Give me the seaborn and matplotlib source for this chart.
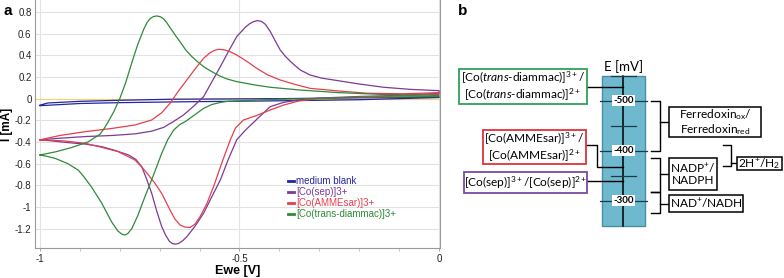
import matplotlib
matplotlib.use('Agg')
import matplotlib.pyplot as plt
import seaborn as sns
import pandas as pd
from matplotlib.patches import Rectangle
from matplotlib.ticker import MultipleLocator, FuncFormatter

# ---------------- panel a: cyclic voltammograms (forward sweep, then return sweep)
blank_fwd_x = [-1.0, -0.98, -0.9, -0.8, -0.66, -0.5, -0.4, -0.2, 0.0]
blank_fwd_y = [-0.06, -0.04, -0.025, -0.015, -0.005, -0.002, 0.0, 0.008, 0.015]
blank_rev_x = [0.0, -0.2, -0.4, -0.66, -0.8, -0.9, -1.0]
blank_rev_y = [0.01, -0.01, -0.02, -0.03, -0.037, -0.045, -0.065]

sep_fwd_x = [-1.0, -0.95, -0.887, -0.82, -0.762, -0.72, -0.69, -0.665, -0.64, -0.615, -0.59,
             -0.57, -0.548, -0.527, -0.507, -0.485, -0.475, -0.465, -0.455, -0.445, -0.435,
             -0.423, -0.41, -0.398, -0.385, -0.37, -0.348, -0.323, -0.295, -0.264, -0.2,
             -0.139, -0.07, 0.0]
sep_fwd_y = [-0.38, -0.365, -0.35, -0.34, -0.325, -0.30, -0.265, -0.21, -0.15, -0.07, 0.018,
             0.15, 0.295, 0.44, 0.572, 0.66, 0.69, 0.71, 0.72, 0.713, 0.685,
             0.62, 0.53, 0.449, 0.39, 0.335, 0.265, 0.218, 0.19, 0.172, 0.135,
             0.105, 0.085, 0.074]
sep_rev_x = [0.0, -0.1, -0.2, -0.3, -0.35, -0.39, -0.423, -0.445, -0.465, -0.485, -0.507,
             -0.528, -0.548, -0.57, -0.59, -0.612, -0.632, -0.642, -0.652, -0.66, -0.668,
             -0.676, -0.685, -0.695, -0.708, -0.72, -0.732, -0.745, -0.76, -0.778, -0.81,
             -0.845, -0.885, -0.929, -0.97, -1.0]
sep_rev_y = [0.05, 0.03, 0.02, 0.005, -0.01, -0.035, -0.074, -0.15, -0.22, -0.29, -0.38,
             -0.56, -0.75, -0.91, -1.058, -1.18, -1.274, -1.31, -1.335, -1.342, -1.338,
             -1.315, -1.26, -1.18, -1.03, -0.874, -0.75, -0.628, -0.56, -0.52, -0.48,
             -0.443, -0.42, -0.406, -0.39, -0.38]

amme_fwd_x = [-1.0, -0.95, -0.887, -0.82, -0.762, -0.72, -0.695, -0.674, -0.655, -0.632,
              -0.61, -0.59, -0.575, -0.563, -0.553, -0.54, -0.525, -0.507, -0.48, -0.457,
              -0.43, -0.398, -0.36, -0.323, -0.25, -0.18, -0.09, 0.0]
amme_fwd_y = [-0.38, -0.34, -0.305, -0.275, -0.243, -0.197, -0.13, -0.043, 0.06, 0.172,
              0.28, 0.372, 0.42, 0.445, 0.455, 0.452, 0.435, 0.403, 0.34, 0.28,
              0.22, 0.172, 0.13, 0.095, 0.07, 0.05, 0.045, 0.055]
amme_rev_x = [0.0, -0.1, -0.2, -0.3, -0.35, -0.39, -0.423, -0.46, -0.49, -0.51, -0.523,
              -0.545, -0.565, -0.582, -0.599, -0.612, -0.624, -0.637, -0.649, -0.662, -0.674,
              -0.695, -0.712, -0.728, -0.745, -0.762, -0.804, -0.85, -0.887, -0.94, -1.0]
amme_rev_y = [0.04, 0.025, 0.015, 0.0, -0.02, -0.06, -0.105, -0.16, -0.197, -0.27, -0.38,
              -0.6, -0.812, -0.97, -1.09, -1.16, -1.188, -1.185, -1.166, -1.11, -1.028,
              -0.874, -0.78, -0.705, -0.63, -0.566, -0.489, -0.445, -0.412, -0.39, -0.38]

diam_fwd_x = [-1.0, -0.96, -0.92, -0.88, -0.85, -0.84, -0.83, -0.815, -0.80, -0.785, -0.77,
              -0.755, -0.74, -0.732, -0.725, -0.716, -0.707, -0.698, -0.69, -0.682, -0.674,
              -0.66, -0.65, -0.635, -0.62, -0.605, -0.59, -0.57, -0.55, -0.53, -0.507,
              -0.46, -0.423, -0.35, -0.25, -0.15, 0.0]
diam_fwd_y = [-0.52, -0.49, -0.45, -0.40, -0.33, -0.28, -0.22, -0.12, 0.0, 0.15, 0.33,
              0.50, 0.64, 0.70, 0.735, 0.757, 0.763, 0.755, 0.735, 0.70, 0.655,
              0.58, 0.53, 0.45, 0.39, 0.34, 0.295, 0.25, 0.21, 0.18, 0.157,
              0.125, 0.105, 0.08, 0.055, 0.04, 0.03]
diam_rev_x = [0.0, -0.2, -0.4, -0.5, -0.53, -0.548, -0.57, -0.59, -0.605, -0.62, -0.635,
              -0.65, -0.665, -0.68, -0.695, -0.715, -0.737, -0.755, -0.77, -0.78, -0.787,
              -0.795, -0.805, -0.82, -0.845, -0.87, -0.89, -0.904, -0.93, -0.962, -0.985, -1.0]
diam_rev_y = [0.02, 0.01, -0.005, -0.02, -0.025, -0.035, -0.055, -0.09, -0.13, -0.17, -0.21,
              -0.24, -0.29, -0.38, -0.505, -0.70, -0.905, -1.08, -1.20, -1.245, -1.258,
              -1.25, -1.22, -1.14, -0.966, -0.82, -0.72, -0.66, -0.60, -0.551, -0.53, -0.52]

names = ['medium blank', '[Co(sep)]3+', '[Co(AMMEsar)]3+', '[Co(trans-diammac)]3+']
colors = ['#26269e', '#7b3a96', '#e3404e', '#2f8a3a']

frames = []
for name, xs, ys in [
        (names[0], blank_fwd_x + blank_rev_x, blank_fwd_y + blank_rev_y),
        (names[1], sep_fwd_x + sep_rev_x, sep_fwd_y + sep_rev_y),
        (names[2], amme_fwd_x + amme_rev_x, amme_fwd_y + amme_rev_y),
        (names[3], diam_fwd_x + diam_rev_x, diam_fwd_y + diam_rev_y)]:
    frames.append(pd.DataFrame({'Ewe': xs, 'I': ys, 'sample': name}))
cv = pd.concat(frames, ignore_index=True)

# ---------------- panel b: redox potentials [mV]
cobalt_text = ['[Co($\\mathit{trans}$-diammac)]$^{3+}$/\n[Co($\\mathit{trans}$-diammac)]$^{2+}$',
               '[Co(AMMEsar)]$^{3+}$/\n[Co(AMMEsar)]$^{2+}$',
               '[Co(sep)]$^{3+}$/[Co(sep)]$^{2+}$']
cobalt_E = [-528, -368, -339]
cobalt_colors = ['#2ea05a', '#e0303a', '#7b4a9e']
bio_text = ['Ferredoxin$_{\\mathrm{ox}}$/\nFerredoxin$_{\\mathrm{red}}$',
            'NADP$^{+}$/\nNADPH', 'NAD$^{+}$/NADH']
bio_lo = [-500, -385, -317]
bio_hi = [-400, -317, -275]
h2_lo, h2_hi = -411, -369
axis_ticks = [-550, -500, -450, -400, -350, -300]
axis_labels = ['-500', '-400', '-300']

plt.rcParams['font.family'] = ['Liberation Sans', 'DejaVu Sans']
plt.rcParams['mathtext.fontset'] = 'custom'
plt.rcParams['mathtext.rm'] = 'Lato'
plt.rcParams['mathtext.it'] = 'Lato:italic'
plt.rcParams['mathtext.bf'] = 'Lato:bold'

fig = plt.figure(figsize=(7.84, 2.78), dpi=100)
ax = fig.add_axes([35 / 784, 1 - 248 / 278, 405 / 784, 248 / 278])

ax.axhline(0, color='#f2d46a', lw=0.8, zorder=1)
sns.lineplot(data=cv, x='Ewe', y='I', hue='sample', palette=dict(zip(names, colors)),
             sort=False, estimator=None, lw=0.9, ax=ax, zorder=3)
ax.set_xlim(-1.0125, 0.0025)
ax.set_ylim(-1.378, 0.91)
ax.yaxis.set_major_locator(MultipleLocator(0.2))
ax.xaxis.set_major_locator(MultipleLocator(0.5))
ax.xaxis.set_minor_locator(MultipleLocator(0.1))
fmt = FuncFormatter(lambda v, p: ('%g' % round(v, 2)))
ax.xaxis.set_major_formatter(fmt)
ax.yaxis.set_major_formatter(fmt)
ax.grid(True, axis='y', color='#e2e2e2', lw=0.8)
ax.grid(True, axis='x', which='major', color='#e2e2e2', lw=0.8)
ax.set_axisbelow(True)
for s in ['left', 'bottom', 'right']:
    ax.spines[s].set_color('#9a9a9a')
ax.spines['top'].set_visible(False)
ax.tick_params(axis='both', labelsize=7, colors='#9a9a9a', labelcolor='#222222', length=2.5, width=0.6, pad=2)
ax.tick_params(axis='y', length=0, pad=2.5)
ax.tick_params(axis='x', which='minor', length=2, colors='#bbbbbb')
ax.set_xlabel('Ewe [V]', fontweight='bold', fontsize=9)
ax.set_ylabel('I [mA]', fontweight='bold', fontsize=8.5)
ax.xaxis.set_label_coords(0.5, -(271 - 248) / 248, transform=ax.transAxes)
ax.xaxis.label.set_va('center')
ax.yaxis.set_label_coords(-(35 - 7) / 405, 0.5)
ax.yaxis.label.set_va('center')

leg = ax.legend(loc='upper left', bbox_to_anchor=(0.613, 0.31), frameon=False, fontsize=7,
                handlelength=0.6, handletextpad=0.25, labelspacing=0.12, borderpad=0,
                labelcolor='linecolor')
for h in leg.get_lines():
    h.set_linewidth(2)

fig.text(4 / 784, 1 - 11 / 278, 'a', fontsize=11, fontweight='bold', va='center')
fig.text(458 / 784, 1 - 11 / 278, 'b', fontsize=11, fontweight='bold', va='center')

# ---------------- panel b drawing (x in figure pixels, y in mV)
bx = fig.add_axes([440 / 784, 0, 344 / 784, 1])
bx.set_xlim(440, 784)
bx.set_ylim(-145, -701)
bx.axis('off')
calib = ['Lato', 'DejaVu Sans']

bx.add_patch(Rectangle((602, -550), 43, 300, facecolor='#6fb9cf', edgecolor='#4b8ca3', lw=1, zorder=1))
bx.plot([623.3, 623.3], [-550, -250], color='black', lw=1.1, zorder=2)
for t in axis_ticks:
    if t in (-500, -400, -300):
        bx.plot([600, 647], [t, t], color='#1a3a48', lw=0.9, zorder=2)
    else:
        bx.plot([611, 636], [t, t], color='#1a3a48', lw=0.9, zorder=2)
for lab in axis_labels:
    v = float(lab)
    bx.add_patch(Rectangle((612, v - 11), 23, 22, facecolor='white', edgecolor='none', zorder=3))
    bx.text(623.5, v, lab, ha='center', va='center', fontsize=7, fontweight='bold',
            family=calib, zorder=4)
bx.text(623.5, -568, 'E [mV]', ha='center', va='center', fontsize=9.5, family=calib)

# cobalt couples (left)
cob_boxes = [(459, 587, -563, -493, -528), (483, 586, -441, -373, -411), (464, 587, -357, -315, -339)]
for (x0, x1, y0, y1, ya), txt, E, c in zip(cob_boxes, cobalt_text, cobalt_E, cobalt_colors):
    bx.add_patch(Rectangle((x0, y0), x1 - x0, y1 - y0, facecolor='white', edgecolor=c, lw=1.3, zorder=3))
    bx.text((x0 + x1) / 2, (y0 + y1) / 2, txt, ha='center', va='center', fontsize=8.6,
            family=calib, linespacing=1.05, zorder=4)
    if ya == E:
        bx.plot([x1, 623.3], [E, E], color='black', lw=1, zorder=2)
    else:
        bx.plot([x1, 597, 597, 623.3], [ya, ya, E, E], color='black', lw=1, zorder=2)

# biological couples (right)
bio_boxes = [(669, 761, -487, -427), (669, 717, -385, -321), (669, 743, -311, -277)]
for (x0, x1, y0, y1), txt, lo, hi in zip(bio_boxes, bio_text, bio_lo, bio_hi):
    bx.plot([651, 660, 660, 651], [lo, lo, hi, hi], color='black', lw=1, zorder=2)
    mid = (y0 + y1) / 2
    bx.plot([660, x0], [mid, mid], color='black', lw=1, zorder=2)
    bx.add_patch(Rectangle((x0, y0), x1 - x0, y1 - y0, facecolor='white', edgecolor='black', lw=1.1, zorder=3))
    bx.text((x0 + x1) / 2, mid, txt, ha='center', va='center', fontsize=8.6,
            family=calib, linespacing=1.05, zorder=4)

bx.plot([723, 731, 731, 723], [h2_lo, h2_lo, h2_hi, h2_hi], color='black', lw=1, zorder=2)
bx.plot([731, 737], [-375, -375], color='black', lw=1, zorder=2)
bx.add_patch(Rectangle((737, -387), 45, 26, facecolor='white', edgecolor='black', lw=1.1, zorder=3))
bx.text(759.5, -374, '2H$^{+}$/H$_{2}$', ha='center', va='center', fontsize=8.6, family=calib, zorder=4)

fig.savefig('out.png', dpi=100)
